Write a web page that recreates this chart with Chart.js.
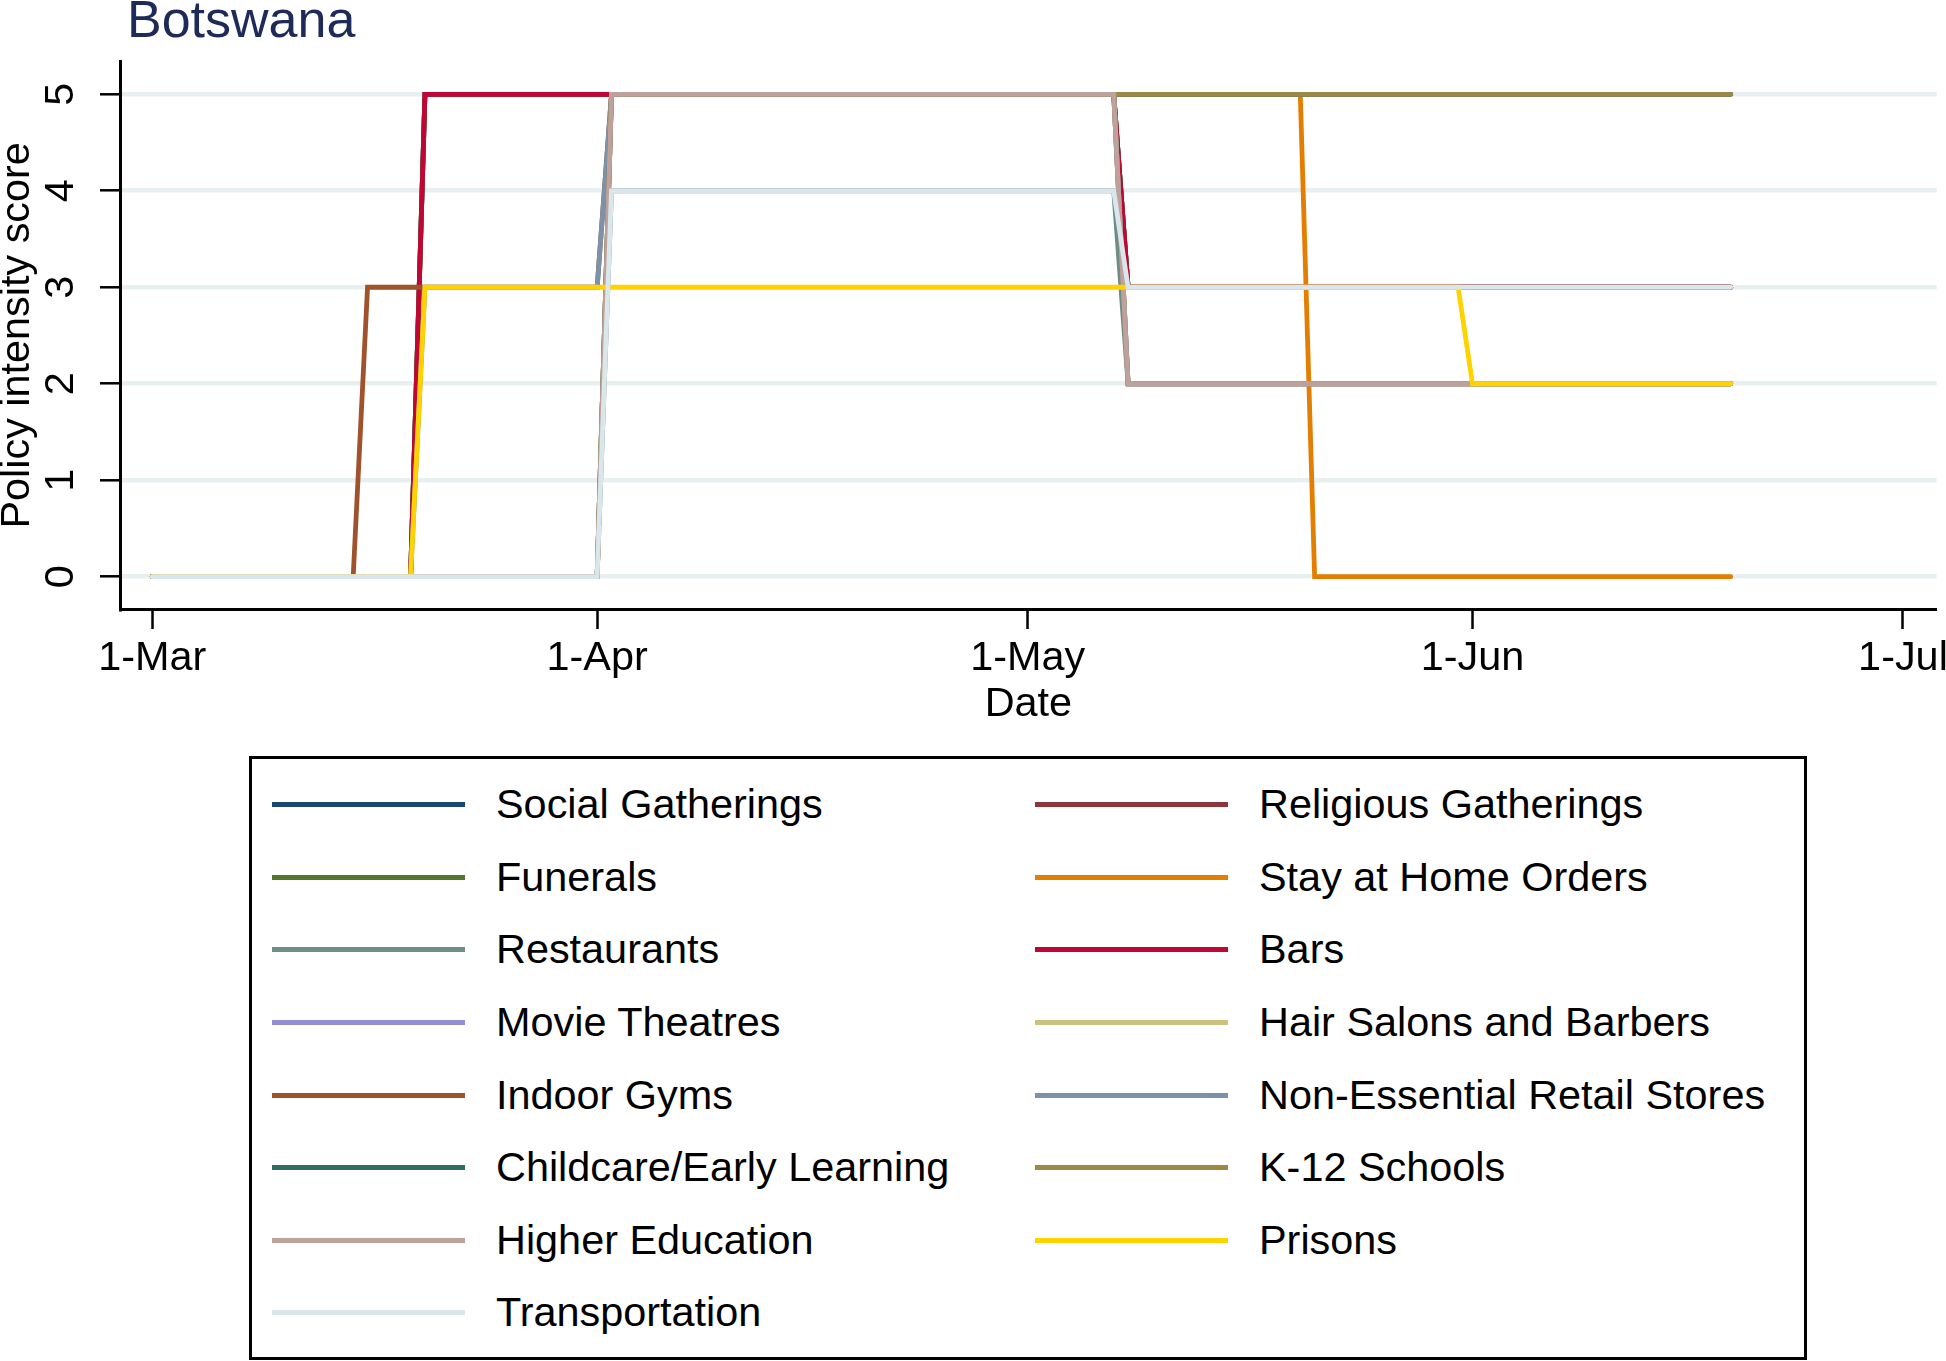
<!DOCTYPE html>
<html>
<head>
<meta charset="utf-8">
<script src="https://cdn.jsdelivr.net/npm/chart.js@4.4.1/dist/chart.umd.min.js"></script>
<style>
html,body{margin:0;padding:0;background:#fff;width:1946px;height:1361px;overflow:hidden;}
body{position:relative;font-family:"Liberation Sans",Arial,Helvetica,sans-serif;}
#wrap{position:absolute;left:0;top:0;width:1946px;height:740px;}
#title{position:absolute;left:127px;top:-7.3px;font-size:52px;line-height:52px;color:#1e2b58;white-space:nowrap;}
#legend{position:absolute;left:248.5px;top:756.3px;width:1558.5px;height:603.7px;border:3px solid #000;box-sizing:border-box;}
.li{position:absolute;height:60px;display:flex;align-items:center;}
.sw{width:193px;height:5px;flex:none;}
.lt{font-size:41.4px;color:#000;white-space:nowrap;margin-left:31px;}
</style>
</head>
<body>
<div id="wrap"><canvas id="c" width="1946" height="740"></canvas></div>
<div id="title">Botswana</div>
<div id="legend"></div>
<script>
// ---------- DATA ----------
const startDate = '2020-03-01';
const xTickDates = ['2020-03-01', '2020-04-01', '2020-05-01', '2020-06-01', '2020-07-01'];
const xTickLabels = ['1-Mar', '1-Apr', '1-May', '1-Jun', '1-Jul'];
const yTickValues = [0, 1, 2, 3, 4, 5];

const seriesNames = [
  'Social Gatherings', 'Religious Gatherings', 'Funerals', 'Stay at Home Orders',
  'Restaurants', 'Bars', 'Movie Theatres', 'Hair Salons and Barbers',
  'Indoor Gyms', 'Non-Essential Retail Stores', 'Childcare/Early Learning', 'K-12 Schools',
  'Higher Education', 'Prisons', 'Transportation'
];

// breakpoints [date, policy intensity score]
const socialGatherings   = [['2020-03-01',0],['2020-03-19',0],['2020-03-20',5],['2020-05-07',5],['2020-05-08',3],['2020-06-19',3]];
const religiousGatherings= [['2020-03-01',0],['2020-03-19',0],['2020-03-20',5],['2020-05-07',5],['2020-05-08',3],['2020-06-19',3]];
const funerals           = [['2020-03-01',0],['2020-03-19',0],['2020-03-20',5],['2020-05-07',5],['2020-05-08',3],['2020-06-19',3]];
const stayAtHomeOrders   = [['2020-03-01',0],['2020-04-01',0],['2020-04-02',5],['2020-05-20',5],['2020-05-21',0],['2020-06-19',0]];
const restaurants        = [['2020-03-01',0],['2020-04-01',0],['2020-04-02',4],['2020-05-07',4],['2020-05-08',2],['2020-06-19',2]];
const bars               = [['2020-03-01',0],['2020-03-19',0],['2020-03-20',5],['2020-05-07',5],['2020-05-08',3],['2020-06-19',3]];
const movieTheatres      = [['2020-03-01',0],['2020-04-01',0],['2020-04-02',5],['2020-06-19',5]];
const hairSalons         = [['2020-03-01',0],['2020-04-01',0],['2020-04-02',5],['2020-05-07',5],['2020-05-08',2],['2020-06-19',2]];
const indoorGyms         = [['2020-03-01',0],['2020-03-15',0],['2020-03-16',3],['2020-04-01',3],['2020-04-02',5],['2020-05-07',5],['2020-05-08',2],['2020-06-19',2]];
const nonEssentialRetail = [['2020-03-01',0],['2020-03-19',0],['2020-03-20',3],['2020-04-01',3],['2020-04-02',5],['2020-05-07',5],['2020-05-08',2],['2020-06-19',2]];
const childcare          = [['2020-03-01',0],['2020-04-01',0],['2020-04-02',5],['2020-06-19',5]];
const k12Schools         = [['2020-03-01',0],['2020-04-01',0],['2020-04-02',5],['2020-06-19',5]];
const higherEducation    = [['2020-03-01',0],['2020-04-01',0],['2020-04-02',5],['2020-05-07',5],['2020-05-08',2],['2020-06-19',2]];
const prisons            = [['2020-03-01',0],['2020-03-19',0],['2020-03-20',3],['2020-05-31',3],['2020-06-01',2],['2020-06-19',2]];
const transportation     = [['2020-03-01',0],['2020-04-01',0],['2020-04-02',4],['2020-05-07',4],['2020-05-08',3],['2020-06-19',3]];

const seriesData = [socialGatherings, religiousGatherings, funerals, stayAtHomeOrders, restaurants, bars,
  movieTheatres, hairSalons, indoorGyms, nonEssentialRetail, childcare, k12Schools, higherEducation,
  prisons, transportation];

// ---------- STYLE ----------
const seriesColors = ['#1a476f', '#90353b', '#55752f', '#e37e00', '#6e8e84', '#c10534', '#938dd2', '#cac27e',
  '#a0522d', '#7b92a8', '#2d6d66', '#9c8847', '#bfa19c', '#ffd200', '#d9e6eb'];
const FONT = '"Liberation Sans", Arial, Helvetica, sans-serif';

function dayIndex(s) {
  const [y, m, d] = s.split('-').map(Number);
  const [y0, m0, d0] = startDate.split('-').map(Number);
  return Math.round((Date.UTC(y, m - 1, d) - Date.UTC(y0, m0 - 1, d0)) / 86400000);
}
const xTickDays = xTickDates.map(dayIndex);

const n = seriesNames.length;
const datasets = seriesNames.map((name, i) => ({
  label: name,
  data: seriesData[i].map(([d, v]) => ({x: dayIndex(d), y: v})),
  borderColor: seriesColors[i],
  backgroundColor: seriesColors[i],
  borderWidth: 4.8,
  pointRadius: 0,
  tension: 0,
  fill: false,
  borderCapStyle: 'round',
  borderJoinStyle: 'miter',
  order: n - i
}));

Chart.defaults.font.family = FONT;

new Chart(document.getElementById('c').getContext('2d'), {
  type: 'line',
  data: {datasets},
  options: {
    responsive: false,
    animation: false,
    devicePixelRatio: 1,
    layout: {autoPadding: false, padding: {top: 61.7, right: 9.3, left: 0, bottom: 0}},
    plugins: {legend: {display: false}, title: {display: false}, tooltip: {enabled: false}},
    scales: {
      x: {
        type: 'linear', min: -2.25, max: 124.35,
        afterBuildTicks: s => { s.ticks = xTickDays.map(v => ({value: v})); },
        afterFit: s => { s.height = 131; s.paddingLeft = 0; s.paddingRight = 0; },
        grid: {drawOnChartArea: false, drawTicks: true, tickLength: 20, tickColor: '#000', tickWidth: 2.5, color: '#000'},
        border: {display: true, color: '#000', width: 3},
        ticks: {
          autoSkip: false, maxRotation: 0, minRotation: 0, padding: 5, color: '#000',
          font: {size: 41.4, family: FONT},
          callback: v => { const k = xTickDays.indexOf(v); return k >= 0 ? xTickLabels[k] : ''; }
        },
        title: {display: true, text: 'Date', color: '#000', font: {size: 41.4, family: FONT}, padding: {top: 0, bottom: 10.4}}
      },
      y: {
        type: 'linear', min: -0.335, max: 5.338,
        afterBuildTicks: s => { s.ticks = yTickValues.map(v => ({value: v})); },
        afterFit: s => { s.width = 120; },
        grid: {color: '#e8eff1', lineWidth: 4.6, tickColor: '#000', tickWidth: 2.5, tickLength: 20, drawTicks: true},
        border: {display: true, color: '#000', width: 3},
        ticks: {
          minRotation: 90, maxRotation: 90, crossAlign: 'center', padding: 27, color: '#000',
          font: {size: 41.4, family: FONT},
          callback: v => String(v)
        },
        title: {display: true, text: 'Policy intensity score', color: '#000',
          font: {size: 41.4, family: FONT, lineHeight: 0.85}, padding: {top: 0, bottom: 0}}
      }
    }
  }
});

// ---------- LEGEND (two columns, row-major like the original) ----------
const legend = document.getElementById('legend');
seriesNames.forEach((name, i) => {
  const col = i % 2, row = Math.floor(i / 2);
  const item = document.createElement('div');
  item.className = 'li';
  item.style.left = (col === 0 ? 20.5 : 783.5) + 'px';
  item.style.top = (45.4 + row * 72.6 - 30) + 'px';
  const sw = document.createElement('div');
  sw.className = 'sw';
  sw.style.background = seriesColors[i];
  const t = document.createElement('span');
  t.className = 'lt';
  t.textContent = name;
  item.appendChild(sw);
  item.appendChild(t);
  legend.appendChild(item);
});
</script>
</body>
</html>
